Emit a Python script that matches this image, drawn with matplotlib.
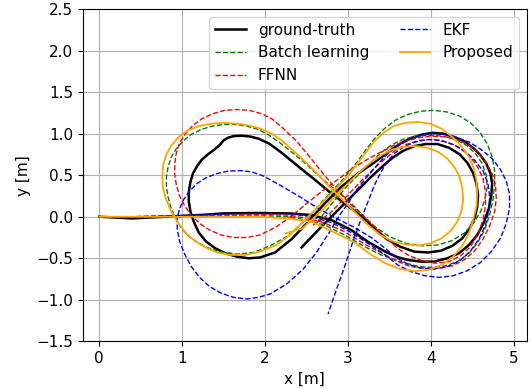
import matplotlib
matplotlib.use("Agg")
import matplotlib.pyplot as plt

plt.rcParams["font.size"] = 11

# ground-truth trajectory
gt_x = [0, 0.2, 0.4, 0.6, 0.8, 1.0, 1.2, 1.5, 1.9, 2.3, 2.56, 2.80, 3.04, 3.24, 3.45, 3.58, 3.72, 3.88,
        4.04, 4.20, 4.34, 4.46, 4.56, 4.64, 4.70, 4.73, 4.74, 4.72, 4.67, 4.60, 4.51, 4.40, 4.28, 4.15, 4.02,
        3.90, 3.77, 3.63, 3.50, 3.33, 3.12, 2.92, 2.72, 2.52, 2.32, 2.12, 1.94, 1.80, 1.66, 1.52, 1.40, 1.29,
        1.20, 1.14, 1.10, 1.08, 1.08, 1.10, 1.13, 1.18, 1.24, 1.31, 1.39, 1.45, 1.50, 1.55, 1.62, 1.72, 1.82,
        1.92, 2.05, 2.20, 2.42, 2.62, 2.80, 3.00, 3.17, 3.32, 3.47, 3.63, 3.80, 3.97, 4.12, 4.26, 4.38, 4.47,
        4.53, 4.56, 4.57, 4.55, 4.51, 4.44, 4.35, 4.22, 4.08, 3.94, 3.80, 3.66, 3.54, 3.42, 3.28, 3.12, 2.92,
        2.68, 2.44]
gt_y = [0, -0.01, -0.02, -0.01, 0.0, 0.01, 0.02, 0.04, 0.045, 0.04, 0.02, -0.04, -0.16, -0.30, -0.42,
        -0.48, -0.52, -0.54, -0.54, -0.50, -0.44, -0.34, -0.22, -0.07, 0.10, 0.26, 0.40, 0.52, 0.64, 0.74,
        0.83, 0.91, 0.96, 1.00, 1.01, 0.99, 0.95, 0.88, 0.79, 0.66, 0.52, 0.36, 0.16, -0.06, -0.27, -0.43,
        -0.49, -0.50, -0.48, -0.44, -0.38, -0.30, -0.19, -0.06, 0.06, 0.18, 0.30, 0.42, 0.52, 0.61, 0.69,
        0.75, 0.81, 0.86, 0.92, 0.95, 0.97, 0.975, 0.965, 0.94, 0.88, 0.77, 0.59, 0.43, 0.28, 0.13, 0.0,
        -0.14, -0.27, -0.36, -0.42, -0.43, -0.41, -0.35, -0.26, -0.14, -0.01, 0.12, 0.26, 0.40, 0.53, 0.65,
        0.75, 0.83, 0.875, 0.875, 0.85, 0.79, 0.71, 0.61, 0.48, 0.32, 0.12, -0.12, -0.37]

# Batch learning
bl_x = [0, 0.4, 0.8, 1.2, 1.6, 2.0, 2.28, 2.50, 2.72, 2.96, 3.20, 3.40, 3.55, 3.70, 3.86, 4.02, 4.18, 4.32,
        4.45, 4.56, 4.65, 4.71, 4.75, 4.77, 4.77, 4.74, 4.68, 4.59, 4.48, 4.35, 4.20, 4.04, 3.88, 3.72, 3.57,
        3.44, 3.33, 3.22, 3.12, 2.95, 2.76, 2.58, 2.42, 2.26, 2.06, 1.86, 1.66, 1.46, 1.30, 1.17, 1.06, 0.98,
        0.91, 0.86, 0.83, 0.81, 0.81, 0.83, 0.87, 0.93, 1.01, 1.11, 1.23, 1.36, 1.50, 1.64, 1.78, 1.92, 2.05,
        2.18, 2.42, 2.62, 2.78, 2.98, 3.14, 3.30, 3.50, 3.70, 3.90, 4.08, 4.25, 4.40, 4.52, 4.60, 4.65, 4.68,
        4.67, 4.62, 4.54, 4.43, 4.30, 4.15, 3.98, 3.82, 3.66, 3.52, 3.40, 3.22, 3.00, 2.80, 2.64]
bl_y = [0, 0.0, 0.005, 0.01, 0.01, 0.01, 0.0, -0.04, -0.10, -0.22, -0.36, -0.46, -0.51, -0.56, -0.60,
        -0.61, -0.59, -0.54, -0.45, -0.32, -0.16, 0.02, 0.20, 0.38, 0.56, 0.72, 0.88, 1.02, 1.13, 1.21, 1.26,
        1.28, 1.27, 1.23, 1.16, 1.06, 0.95, 0.81, 0.67, 0.46, 0.26, 0.06, -0.10, -0.24, -0.35, -0.43, -0.45,
        -0.42, -0.37, -0.30, -0.22, -0.12, 0.0, 0.12, 0.24, 0.36, 0.48, 0.60, 0.72, 0.82, 0.91, 0.99, 1.05,
        1.09, 1.11, 1.11, 1.09, 1.05, 0.98, 0.89, 0.70, 0.52, 0.38, 0.22, 0.06, -0.10, -0.24, -0.32, -0.35,
        -0.34, -0.29, -0.20, -0.07, 0.06, 0.20, 0.35, 0.50, 0.64, 0.76, 0.86, 0.93, 0.97, 0.98, 0.97, 0.93,
        0.86, 0.77, 0.60, 0.38, 0.15, -0.05]

# FFNN
ff_x = [0, 0.4, 0.8, 1.2, 1.6, 2.0, 2.28, 2.50, 2.68, 2.96, 3.20, 3.45, 3.60, 3.76, 3.93, 4.10, 4.26, 4.40,
        4.53, 4.63, 4.71, 4.77, 4.79, 4.78, 4.74, 4.67, 4.58, 4.46, 4.32, 4.17, 4.01, 3.85, 3.70, 3.56, 3.38,
        3.20, 3.04, 2.84, 2.64, 2.48, 2.32, 2.14, 1.94, 1.78, 1.62, 1.47, 1.33, 1.21, 1.11, 1.03, 0.97, 0.93,
        0.91, 0.91, 0.93, 0.97, 1.04, 1.13, 1.24, 1.37, 1.51, 1.66, 1.81, 1.96, 2.08, 2.20, 2.38, 2.54, 2.70,
        2.86, 3.04, 3.22, 3.40, 3.60, 3.74, 3.90, 4.06, 4.22, 4.36, 4.48, 4.57, 4.63, 4.66, 4.66, 4.63, 4.56,
        4.46, 4.33, 4.18, 4.02, 3.86, 3.70, 3.56, 3.38, 3.18, 2.98, 2.78, 2.58]
ff_y = [0, 0.0, 0.01, 0.015, 0.02, 0.025, 0.02, -0.02, -0.06, -0.18, -0.33, -0.46, -0.54, -0.60, -0.62,
        -0.62, -0.59, -0.52, -0.41, -0.27, -0.11, 0.06, 0.22, 0.38, 0.52, 0.65, 0.76, 0.86, 0.93, 0.96, 0.97,
        0.95, 0.91, 0.86, 0.77, 0.67, 0.57, 0.42, 0.27, 0.14, 0.01, -0.12, -0.22, -0.25, -0.25, -0.22, -0.16,
        -0.08, 0.02, 0.13, 0.25, 0.38, 0.51, 0.64, 0.77, 0.89, 1.00, 1.10, 1.18, 1.24, 1.28, 1.29, 1.28, 1.24,
        1.18, 1.08, 0.91, 0.72, 0.52, 0.33, 0.14, -0.02, -0.20, -0.38, -0.47, -0.53, -0.56, -0.54, -0.47,
        -0.36, -0.21, -0.04, 0.13, 0.30, 0.46, 0.61, 0.74, 0.84, 0.90, 0.93, 0.92, 0.87, 0.79, 0.64, 0.45,
        0.24, 0.04, -0.10]

# EKF
ekf_x = [0, 0.4, 0.8, 1.2, 1.6, 2.0, 2.3, 2.56, 2.80, 3.04, 3.24, 3.45, 3.60, 3.76, 3.93, 4.10, 4.27, 4.44,
         4.60, 4.73, 4.84, 4.91, 4.95, 4.95, 4.91, 4.84, 4.74, 4.62, 4.48, 4.33, 4.18, 4.03, 3.88, 3.74, 3.60,
         3.47, 3.36, 3.23, 3.10, 3.00, 2.90, 2.78, 2.62, 2.46, 2.26, 2.06, 1.92, 1.78, 1.62, 1.47, 1.33, 1.21,
         1.11, 1.03, 0.97, 0.94, 0.94, 0.97, 1.02, 1.09, 1.18, 1.29, 1.42, 1.56, 1.70, 1.84, 1.98, 2.18, 2.42,
         2.66, 2.86, 3.08, 3.28, 3.45, 3.58, 3.72, 3.88, 4.04, 4.20, 4.35, 4.48, 4.58, 4.66, 4.70, 4.71, 4.69,
         4.63, 4.53, 4.41, 4.27, 4.12, 3.96, 3.82, 3.69, 3.57, 3.47, 3.39, 3.32, 3.23, 3.15, 3.06, 2.96, 2.86,
         2.76]
ekf_y = [0, 0.0, 0.01, 0.02, 0.035, 0.04, 0.035, 0.0, -0.07, -0.19, -0.32, -0.46, -0.58, -0.66, -0.71,
         -0.73, -0.71, -0.65, -0.55, -0.42, -0.26, -0.08, 0.10, 0.27, 0.43, 0.57, 0.70, 0.80, 0.89, 0.95, 0.99,
         1.00, 0.98, 0.93, 0.85, 0.75, 0.63, 0.48, 0.32, 0.16, 0.02, -0.18, -0.43, -0.63, -0.81, -0.93, -0.97,
         -0.99, -0.97, -0.92, -0.84, -0.73, -0.60, -0.45, -0.30, -0.15, -0.02, 0.10, 0.21, 0.31, 0.40, 0.47,
         0.52, 0.55, 0.555, 0.54, 0.49, 0.38, 0.24, 0.09, -0.02, -0.13, -0.25, -0.38, -0.49, -0.57, -0.62,
         -0.63, -0.60, -0.53, -0.41, -0.27, -0.10, 0.07, 0.24, 0.40, 0.55, 0.68, 0.79, 0.87, 0.92, 0.93, 0.90,
         0.85, 0.77, 0.66, 0.52, 0.38, 0.15, -0.05, -0.30, -0.60, -0.88, -1.17]

# Proposed
pr_x = [0, 0.4, 0.8, 1.2, 1.6, 1.9, 2.28, 2.56, 2.84, 3.08, 3.27, 3.45, 3.63, 3.80, 3.97, 4.13, 4.27, 4.38,
        4.46, 4.51, 4.55, 4.56, 4.55, 4.52, 4.46, 4.37, 4.26, 4.13, 3.99, 3.84, 3.69, 3.55, 3.43, 3.32, 3.16,
        3.00, 2.82, 2.64, 2.48, 2.30, 2.14, 1.94, 1.76, 1.58, 1.42, 1.28, 1.15, 1.04, 0.95, 0.87, 0.81, 0.77,
        0.76, 0.77, 0.81, 0.87, 0.96, 1.07, 1.20, 1.35, 1.50, 1.65, 1.80, 1.95, 2.08, 2.20, 2.40, 2.58, 2.74,
        2.92, 3.08, 3.22, 3.39, 3.55, 3.70, 3.86, 4.00, 4.13, 4.24, 4.32, 4.37, 4.39, 4.38, 4.35, 4.29, 4.20,
        4.09, 3.96, 3.82, 3.68, 3.54, 3.40, 3.27, 3.14, 2.90, 2.66, 2.45, 2.25]
pr_y = [0, 0.0, 0.0, 0.0, 0.0, 0.0, -0.02, -0.06, -0.19, -0.31, -0.45, -0.56, -0.63, -0.655, -0.64, -0.58,
        -0.48, -0.35, -0.20, -0.04, 0.12, 0.28, 0.44, 0.58, 0.72, 0.85, 0.96, 1.06, 1.12, 1.14, 1.13, 1.09,
        1.01, 0.91, 0.70, 0.49, 0.30, 0.12, -0.04, -0.22, -0.34, -0.42, -0.46, -0.46, -0.43, -0.37, -0.29,
        -0.19, -0.07, 0.06, 0.20, 0.34, 0.48, 0.62, 0.75, 0.86, 0.96, 1.04, 1.09, 1.12, 1.13, 1.12, 1.10, 1.06,
        1.00, 0.92, 0.74, 0.57, 0.40, 0.22, 0.06, -0.08, -0.22, -0.30, -0.335, -0.345, -0.32, -0.26, -0.17,
        -0.06, 0.07, 0.20, 0.34, 0.47, 0.59, 0.70, 0.78, 0.83, 0.85, 0.84, 0.81, 0.74, 0.65, 0.54, 0.30, 0.05,
        -0.14, -0.20]

fig = plt.figure(figsize=(5.32, 3.89), dpi=100)
ax = fig.add_axes([0.1555, 0.1224, 0.835, 0.8545])

ax.plot(gt_x, gt_y, color="k", lw=1.8, label="ground-truth")
ax.plot(bl_x, bl_y, "g--", lw=1.0, label="Batch learning")
ax.plot(ff_x, ff_y, "r--", lw=1.0, label="FFNN")
ax.plot(ekf_x, ekf_y, "b--", lw=1.0, label="EKF")
ax.plot(pr_x, pr_y, color="orange", lw=1.3, label="Proposed")

ax.set_xlim(-0.2, 5.16)
ax.set_ylim(-1.5, 2.5)
ax.set_xticks([0, 1, 2, 3, 4, 5])
ax.set_yticks([-1.5, -1.0, -0.5, 0.0, 0.5, 1.0, 1.5, 2.0, 2.5])
ax.grid(True)
ax.set_axisbelow(True)
ax.set_xlabel("x [m]")
ax.set_ylabel("y [m]")
ax.legend(loc="upper right", ncol=2)

fig.savefig("out.png", dpi=100)
